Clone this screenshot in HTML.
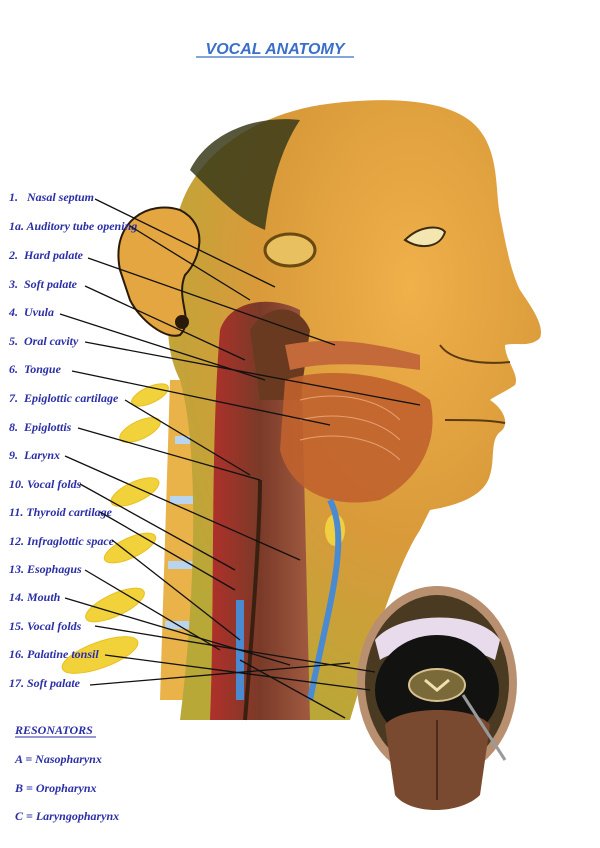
<!DOCTYPE html>
<html><head><meta charset="utf-8"><style>
html,body{margin:0;padding:0;background:#fff;}
svg{display:block}
.l{font-family:"Liberation Serif",serif;font-style:italic;font-weight:bold;font-size:12px;fill:#2b2fa6}
</style></head><body>
<svg width="600" height="848" viewBox="0 0 600 848" xmlns="http://www.w3.org/2000/svg">
<defs>
<radialGradient id="face" cx="0.65" cy="0.3" r="0.75">
<stop offset="0" stop-color="#f0b04a"/><stop offset="0.55" stop-color="#d99a3a"/><stop offset="1" stop-color="#b8a838"/>
</radialGradient>
<linearGradient id="neck" x1="0" y1="0" x2="1" y2="0">
<stop offset="0" stop-color="#b0302a"/><stop offset="0.5" stop-color="#7a3a28"/><stop offset="1" stop-color="#a05a40"/>
</linearGradient>
</defs>
<text x="275" y="54" text-anchor="middle" font-family="Liberation Sans,sans-serif" font-style="italic" font-weight="bold" font-size="16" fill="#3a6fc8">VOCAL ANATOMY</text>
<line x1="196" y1="57" x2="354" y2="57" stroke="#3a6fc8" stroke-width="1.2"/>

<g fill="#f2d23a" stroke="#e8c020" stroke-width="1">
<ellipse cx="150" cy="395" rx="20" ry="8" transform="rotate(-25 150 395)"/>
<ellipse cx="140" cy="430" rx="22" ry="9" transform="rotate(-25 140 430)"/>
<ellipse cx="135" cy="492" rx="26" ry="10" transform="rotate(-25 135 492)"/>
<ellipse cx="130" cy="548" rx="28" ry="10" transform="rotate(-25 130 548)"/>
<ellipse cx="115" cy="605" rx="32" ry="11" transform="rotate(-25 115 605)"/>
<ellipse cx="100" cy="655" rx="40" ry="13" transform="rotate(-20 100 655)"/>
</g>
<path d="M170 380 L215 380 L210 700 L160 700 Z" fill="#e9b34a"/>
<path d="M175 440 L205 440 M170 500 L205 500 M168 565 L205 565 M165 625 L205 625" stroke="#b9d4ee" stroke-width="8"/>

<path d="M175 250 C170 180 230 120 320 105 C390 95 450 100 475 125 C500 150 495 190 500 215 C505 240 510 270 520 290 C530 305 545 325 540 338 C530 348 515 342 505 345 C505 360 520 375 515 385 C505 392 495 396 490 400 C505 410 510 425 500 432 C490 440 495 460 490 475 C485 495 460 505 430 510 L420 530 C400 560 380 620 350 720 L180 720 C195 600 200 450 180 380 C160 340 170 300 175 250 Z" fill="url(#face)"/>
<path d="M190 170 C210 130 260 115 300 120 C280 150 270 190 265 230 C240 220 220 200 190 170 Z" fill="#3a3a1a" opacity="0.85"/>
<path d="M120 270 C110 220 150 200 180 210 C210 225 200 260 185 275 C175 300 195 320 180 335 C165 340 140 320 130 300 Z" fill="#e3a640" stroke="#2a1a0a" stroke-width="2"/>
<circle cx="182" cy="322" r="7" fill="#2a1a0a"/>
<path d="M405 240 C420 225 440 225 445 232 C440 248 420 250 405 240 Z" fill="#f3e6b0" stroke="#3a2a10" stroke-width="2"/>
<ellipse cx="290" cy="250" rx="25" ry="16" fill="#e8c060" stroke="#6a4a10" stroke-width="3"/>
<path d="M440 345 C450 360 480 365 510 362" stroke="#5a3a10" stroke-width="2" fill="none"/>
<path d="M445 420 C470 420 490 420 505 423" stroke="#5a3a10" stroke-width="2" fill="none"/>
<path d="M220 330 C230 300 270 295 300 310 L310 720 L210 720 C215 600 210 450 220 330 Z" fill="url(#neck)"/>
<path d="M250 330 C270 300 300 305 310 330 L300 400 L260 400 Z" fill="#6a3a20"/>
<path d="M285 345 C340 335 380 345 420 355 L420 370 C380 365 330 360 290 370 Z" fill="#c46a3a"/>
<path d="M285 380 C330 365 400 375 430 400 C440 440 420 480 380 500 C330 510 290 490 280 450 Z" fill="#c0622e" opacity="0.9"/>
<path d="M300 400 C340 390 380 400 400 420" stroke="#e8a070" fill="none"/>
<path d="M300 420 C340 410 380 420 400 440" stroke="#e8a070" fill="none"/>
<path d="M300 440 C340 430 380 440 400 460" stroke="#e8a070" fill="none"/>
<ellipse cx="335" cy="530" rx="10" ry="16" fill="#f0d040"/>
<path d="M330 500 C350 540 330 600 310 700" stroke="#4a8ad0" stroke-width="6" fill="none"/>
<path d="M240 600 L240 700" stroke="#4a8ad0" stroke-width="8"/>
<path d="M260 480 C260 520 255 600 245 720" stroke="#3a2010" stroke-width="4" fill="none"/>

<ellipse cx="437" cy="683" rx="80" ry="97" fill="#b89070"/>
<ellipse cx="437" cy="683" rx="72" ry="88" fill="#4a3a22"/>
<path d="M375 640 C400 610 480 610 500 640 L495 660 C470 645 400 645 380 660 Z" fill="#e8dcec"/>
<ellipse cx="437" cy="690" rx="62" ry="55" fill="#121210"/>
<ellipse cx="437" cy="685" rx="28" ry="16" fill="#7a6a3a" stroke="#d8c090" stroke-width="2"/>
<path d="M425 680 L437 690 L449 680" stroke="#f0e0b0" stroke-width="3" fill="none"/>
<path d="M385 725 C400 705 475 705 490 725 L480 795 C460 815 410 815 395 795 Z" fill="#7a4a30"/>
<line x1="437" y1="720" x2="437" y2="800" stroke="#4a2a18" stroke-width="2"/>
<line x1="463" y1="695" x2="505" y2="760" stroke="#9a9a9a" stroke-width="3"/>

<g class="l">
<text x="9" y="201">1.&#160;&#160;&#160;Nasal septum</text>
<text x="9" y="230">1a. Auditory tube opening</text>
<text x="9" y="259">2.&#160;&#160;Hard palate</text>
<text x="9" y="288">3.&#160;&#160;Soft palate</text>
<text x="9" y="316">4.&#160;&#160;Uvula</text>
<text x="9" y="345">5.&#160;&#160;Oral cavity</text>
<text x="9" y="373">6.&#160;&#160;Tongue</text>
<text x="9" y="402">7.&#160;&#160;Epiglottic cartilage</text>
<text x="9" y="431">8.&#160;&#160;Epiglottis</text>
<text x="9" y="459">9.&#160;&#160;Larynx</text>
<text x="9" y="488">10. Vocal folds</text>
<text x="9" y="516">11. Thyroid cartilage</text>
<text x="9" y="545">12. Infraglottic space</text>
<text x="9" y="573">13. Esophagus</text>
<text x="9" y="601">14. Mouth</text>
<text x="9" y="630">15. Vocal folds</text>
<text x="9" y="658">16. Palatine tonsil</text>
<text x="9" y="687">17. Soft palate</text>
<text x="15" y="734">RESONATORS</text>
<text x="15" y="763">A = Nasopharynx</text>
<text x="15" y="792">B = Oropharynx</text>
<text x="15" y="820">C = Laryngopharynx</text>
</g>
<line x1="15" y1="737" x2="96" y2="737" stroke="#2b2fa6"/>

<g stroke="#111" stroke-width="1.3" fill="none">
<line x1="95" y1="199" x2="275" y2="287"/>
<line x1="130" y1="226" x2="250" y2="300"/>
<line x1="88" y1="258" x2="335" y2="345"/>
<line x1="85" y1="286" x2="245" y2="360"/>
<line x1="60" y1="314" x2="265" y2="380"/>
<line x1="85" y1="342" x2="420" y2="405"/>
<line x1="72" y1="371" x2="330" y2="425"/>
<line x1="125" y1="400" x2="250" y2="475"/>
<line x1="78" y1="428" x2="260" y2="480"/>
<line x1="65" y1="456" x2="300" y2="560"/>
<line x1="80" y1="484" x2="235" y2="570"/>
<line x1="100" y1="512" x2="235" y2="590"/>
<line x1="112" y1="540" x2="240" y2="640"/>
<line x1="85" y1="570" x2="220" y2="650"/>
<line x1="65" y1="598" x2="290" y2="665"/>
<line x1="95" y1="626" x2="375" y2="672"/>
<line x1="105" y1="655" x2="370" y2="690"/>
<line x1="90" y1="685" x2="350" y2="663"/>
<line x1="240" y1="660" x2="345" y2="718"/>
</g>
</svg>
</body></html>
